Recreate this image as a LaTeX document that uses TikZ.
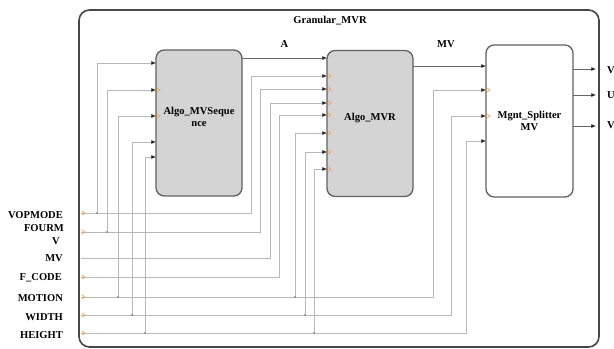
\documentclass[tikz,border=0pt]{standalone}
\usepackage{fontspec}
\setmainfont{Liberation Serif}
\usetikzlibrary{positioning,arrows.meta}

\begin{document}
\begin{tikzpicture}[x=0.03cm, y=-0.03cm,
font=\fontsize{9}{10}\selectfont\bfseries,
block/.style={draw=black!62, line width=1.1pt, rounded corners=7pt, fill=black!17, minimum width=2.58cm, minimum height=4.38cm, align=center, inner sep=0pt},
blocktext/.style={align=center, yshift=5pt},
frame/.style={draw=black!72, line width=1.4pt, rounded corners=9pt, minimum width=15.6cm, minimum height=10.11cm, inner sep=0pt},
wire/.style={draw=black!28, line width=0.6pt, -{Latex[length=4pt, width=3.4pt, color=black!85]}},
sigwire/.style={wire, draw=black!60},
portmark/.style={draw=orange!70, line width=0.6pt},
junction/.style={circle, fill=black!45, inner sep=0pt, minimum size=2pt}
]
\useasboundingbox (0,0) rectangle (614,349);

% subsystem frame
\node[frame] (granular) at (339,178.5) {};
\node (title) at (330,21) {Granular\_MVR};

% blocks
\node[block, label={[blocktext]center:Algo\_MVSeque\\nce}] (mvseq) at (199,123) {};
\node[block, label={[blocktext]center:Algo\_MVR}] (mvr) at (370,123.5) {};
\node[block, fill=white, minimum width=2.61cm, minimum height=4.56cm] (splitter) at (529.5,121) {Mgnt\_Splitter\\MV};

% ports
\foreach \y [count=\i] in {63,90,116,142,157} \coordinate (seqin\i) at (156,\y);
\foreach \y [count=\i] in {58,76,89,103,115,133,152,169} \coordinate (mvrin\i) at (327,\y);
\foreach \y [count=\i] in {66,90,116,141} \coordinate (splin\i) at (486,\y);
\foreach \y [count=\i] in {69,95,126} \coordinate (splout\i) at (573,\y);
\coordinate (seqout) at (242,58);
\coordinate (mvrout) at (413,66);

% inports
\node[anchor=east] (lvop) at (67,215) {VOPMODE};
\node[anchor=east] (lfourm) at (68,228) {FOURM};
\node[anchor=east] (lv) at (64,241) {V};
\node[anchor=east] (lmv) at (67,258) {MV};
\node[anchor=east] (lfcode) at (66,278) {F\_CODE};
\node[anchor=east] (lmotion) at (67,298) {MOTION};
\node[anchor=east] (lwidth) at (67,317) {WIDTH};
\node[anchor=east] (lheight) at (67,335) {HEIGHT};
\coordinate (vop) at (81,213);
\coordinate (fourm) at (81,232);
\coordinate (mv) at (81,258);
\coordinate (fcode) at (81,277);
\coordinate (motion) at (81,297);
\coordinate (width) at (81,315);
\coordinate (height) at (81,333);

% outports
\node[anchor=west] (ov1) at (603,70) {V};
\node[anchor=west] (ou) at (603,95) {U};
\node[anchor=west] (ov2) at (603,125) {V};
\coordinate (out1) at (596,69);
\coordinate (out2) at (596,95);
\coordinate (out3) at (596,126);

% wiring
\draw[wire] (vop) -| (97,63) -- (seqin1);
\draw[wire] (vop) -| (251,76) -- (mvrin2);
\draw[wire] (fourm) -| (107,90) -- (seqin2);
\draw[wire] (fourm) -| (260,89) -- (mvrin3);
\draw[wire] (mv) -| (270,103) -- (mvrin4);
\draw[wire] (fcode) -| (279,115) -- (mvrin5);
\draw[wire] (motion) -| (118,116) -- (seqin3);
\draw[wire] (motion) -| (295,133) -- (mvrin6);
\draw[wire] (motion) -| (433,90) -- (splin2);
\draw[wire] (width) -| (132,142) -- (seqin4);
\draw[wire] (width) -| (305,152) -- (mvrin7);
\draw[wire] (width) -| (451,116) -- (splin3);
\draw[wire] (height) -| (145,157) -- (seqin5);
\draw[wire] (height) -| (314,169) -- (mvrin8);
\draw[wire] (height) -| (466,141) -- (splin4);
\draw[sigwire] (seqout) -- node[above=5pt] (la) {A} (mvrin1);
\draw[sigwire] (mvrout) -- node[above=12pt, pos=0.45] (lmvsig) {MV} (splin1);
\draw[sigwire] (splout1) -- (out1);
\draw[sigwire] (splout2) -- (out2);
\draw[sigwire] (splout3) -- (out3);

\foreach \p in {(97,213),(107,232),(118,297),(132,315),(145,333),(295,297),(305,315),(314,333)}
  \node[junction] at \p {};

% port markers
\foreach \p in {seqin2,seqin3,mvrin2,mvrin3,mvrin4,mvrin5,mvrin6,mvrin7,mvrin8,splin2,splin3,vop,fourm,fcode,motion,width,height}
  \draw[portmark] ([shift={(1,-2)}]\p) -- ([shift={(4,0)}]\p) -- ([shift={(1,2)}]\p);
\end{tikzpicture}
\end{document}
